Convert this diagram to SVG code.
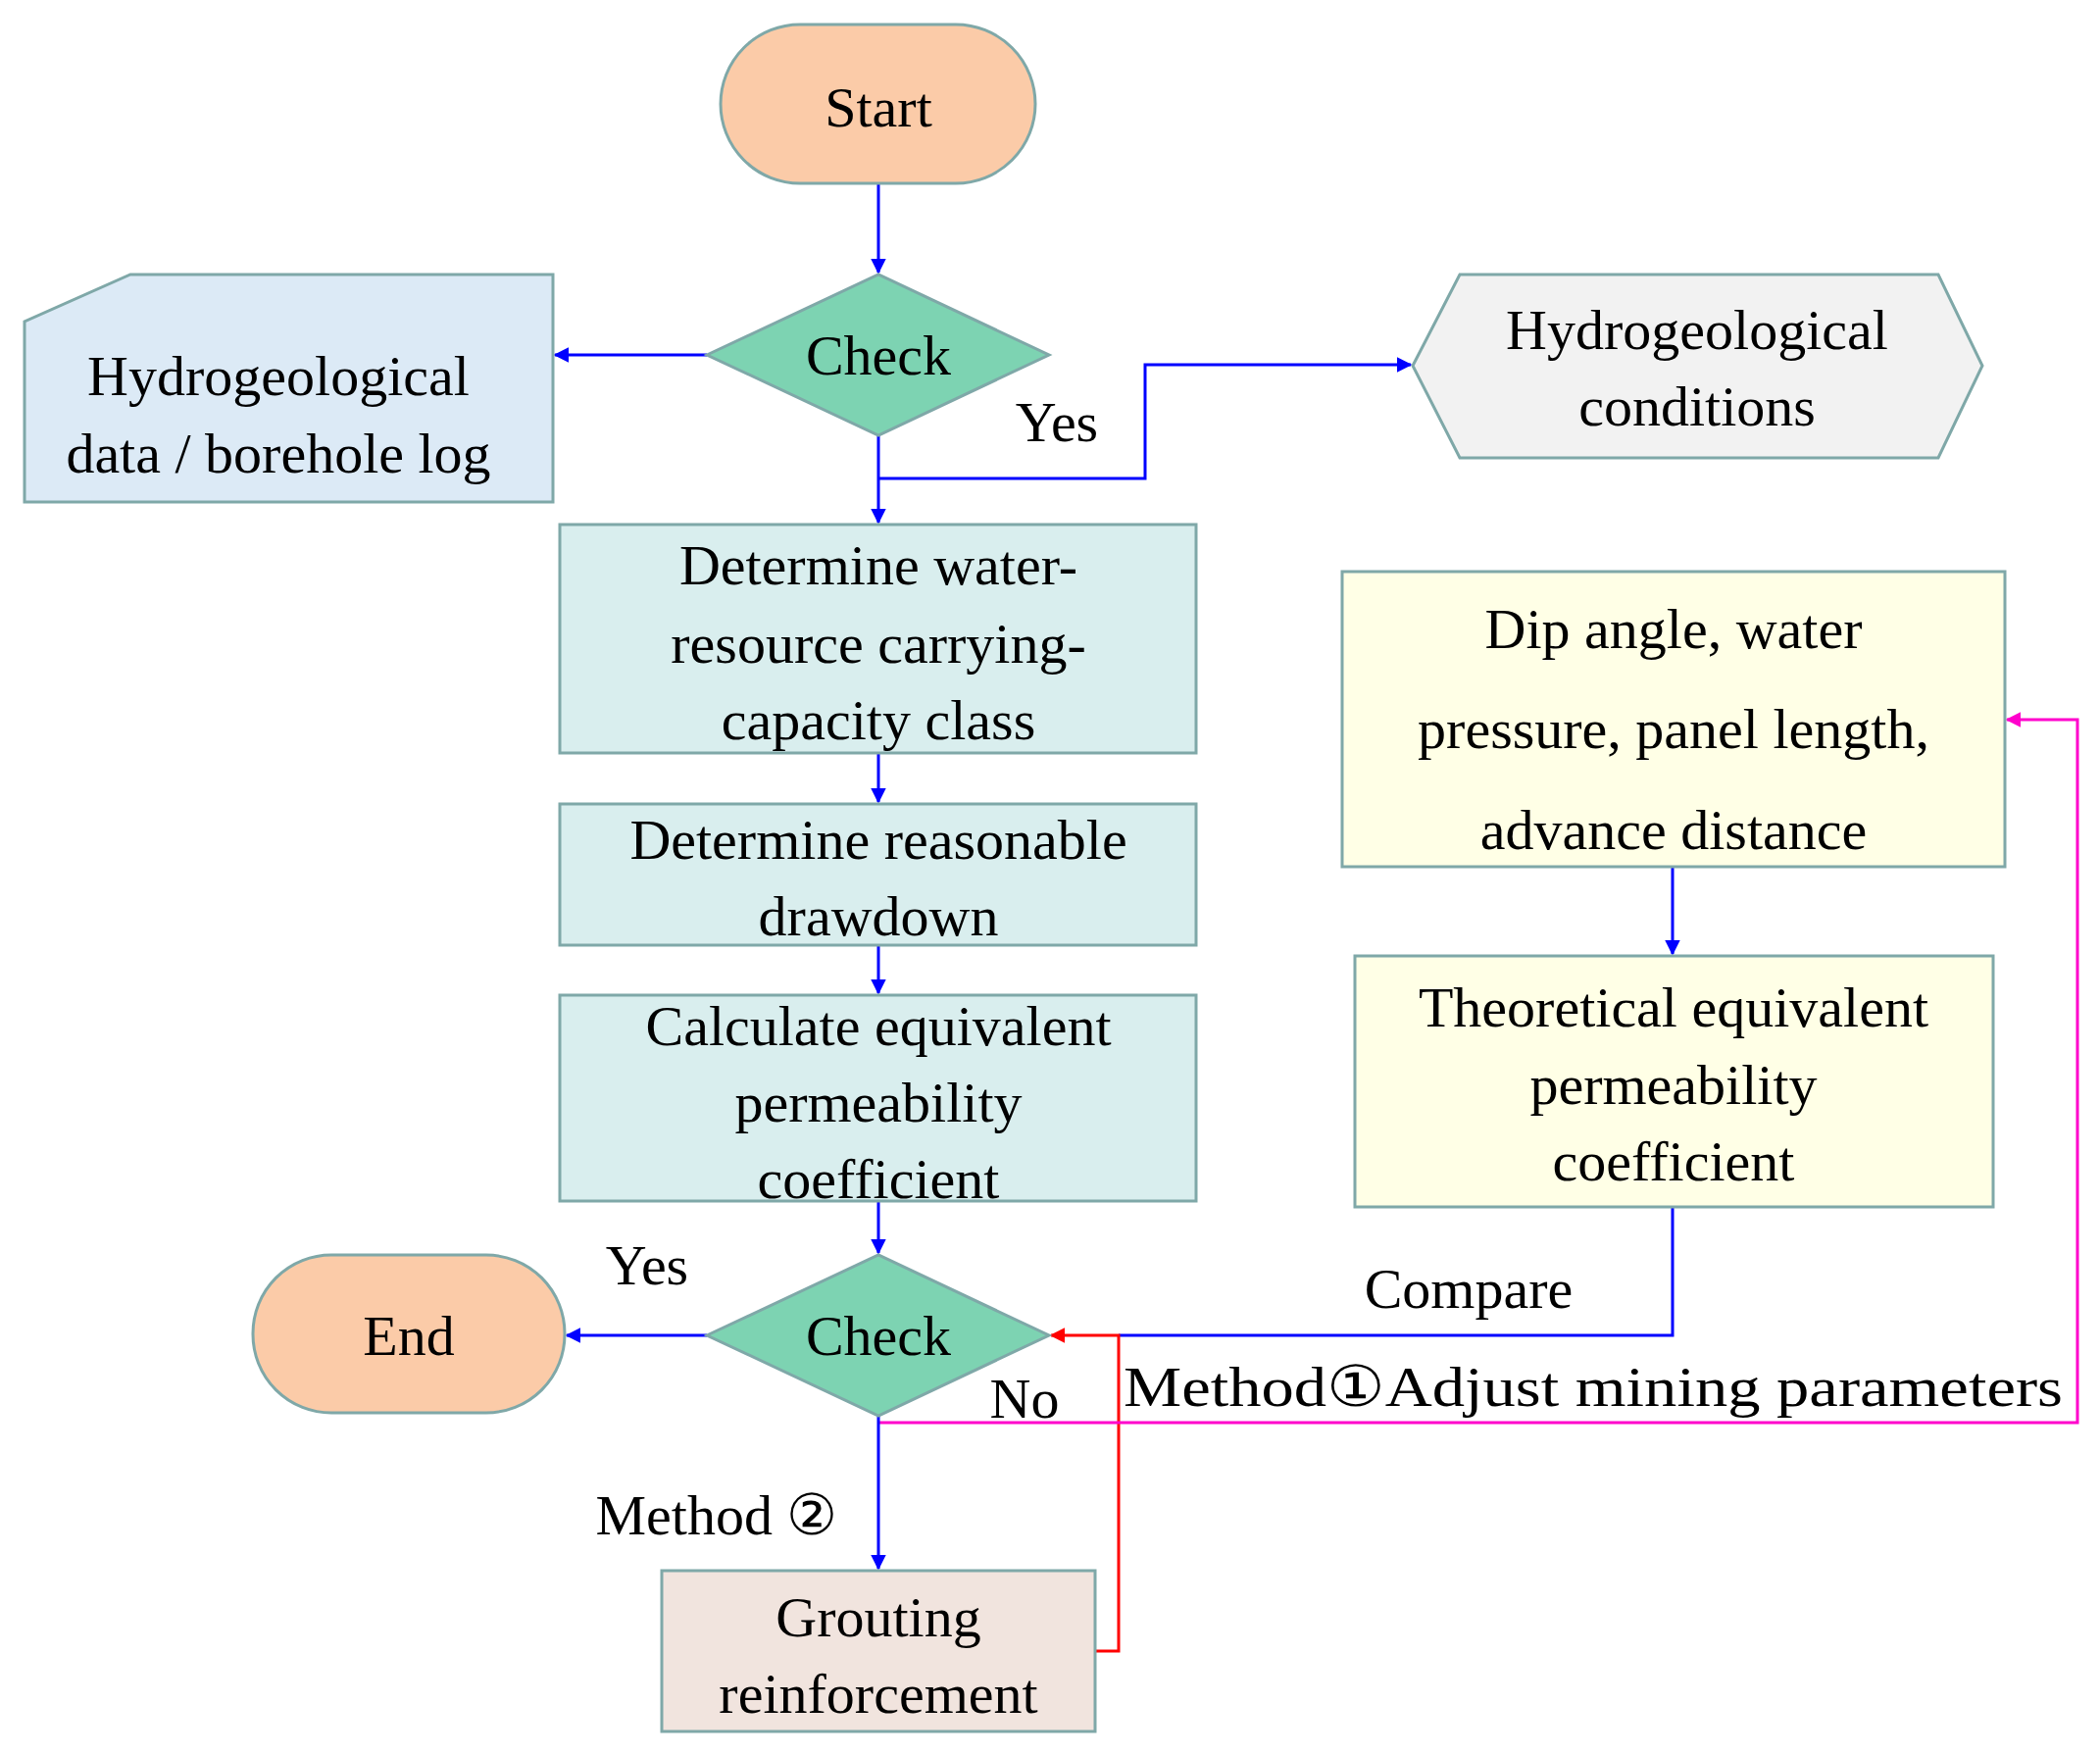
<svg xmlns="http://www.w3.org/2000/svg" width="2142" height="1789" viewBox="0 0 2142 1789">
<style>
text{font-family:"Liberation Serif","Times New Roman",serif;font-size:58px;fill:#000;text-anchor:middle;dominant-baseline:central}
.s{stroke:#7FA8A8;stroke-width:3}
.c{fill:none;stroke-width:3}
</style>
<defs>
<marker id="ab" viewBox="0 0 10 10" refX="9" refY="5" markerWidth="7" markerHeight="7" orient="auto" markerUnits="userSpaceOnUse" style="overflow:visible"><path d="M0,0L10,5L0,10z" fill="#0000FF" transform="scale(2.2) translate(-5,-2.7)"/></marker>
<marker id="ar" viewBox="0 0 10 10" refX="9" refY="5" markerWidth="7" markerHeight="7" orient="auto" markerUnits="userSpaceOnUse" style="overflow:visible"><path d="M0,0L10,5L0,10z" fill="#FF0000" transform="scale(2.2) translate(-5,-2.7)"/></marker>
<marker id="am" viewBox="0 0 10 10" refX="9" refY="5" markerWidth="7" markerHeight="7" orient="auto" markerUnits="userSpaceOnUse" style="overflow:visible"><path d="M0,0L10,5L0,10z" fill="#FF00CC" transform="scale(2.2) translate(-5,-2.7)"/></marker>
</defs>
<rect width="2142" height="1789" fill="#fff"/>
<g id="connectors">
<path class="c" stroke="#0000FF" d="M896,187V278" marker-end="url(#ab)"/>
<path class="c" stroke="#0000FF" d="M721,362H566" marker-end="url(#ab)"/>
<path class="c" stroke="#0000FF" d="M896,444V533" marker-end="url(#ab)"/>
<path class="c" stroke="#0000FF" d="M896,488H1168V372H1439" marker-end="url(#ab)"/>
<path class="c" stroke="#0000FF" d="M896,768V818" marker-end="url(#ab)"/>
<path class="c" stroke="#0000FF" d="M896,964V1013" marker-end="url(#ab)"/>
<path class="c" stroke="#0000FF" d="M896,1225V1278" marker-end="url(#ab)"/>
<path class="c" stroke="#0000FF" d="M721,1362H578" marker-end="url(#ab)"/>
<path class="c" stroke="#0000FF" d="M1706,884V973" marker-end="url(#ab)"/>
<path class="c" stroke="#0000FF" d="M1706,1231V1362H1141"/>
<path class="c" stroke="#FF0000" d="M1117,1684H1141V1362H1072" marker-end="url(#ar)"/>
<path class="c" stroke="#FF00CC" d="M896,1451H2119V734H2047" marker-end="url(#am)"/>
<path class="c" stroke="#0000FF" d="M896,1444V1600" marker-end="url(#ab)"/>
</g>
<g id="start"><rect class="s" x="735" y="25" width="321" height="162" rx="81" fill="#FBCBA8"/><text x="896" y="109">Start</text></g>
<g id="check1"><path class="s" d="M721,362L896,280L1070,362L896,444z" fill="#7DD3B2"/><text x="896" y="362">Check</text></g>
<g id="hydrodata"><path class="s" d="M133,280H564V512H25V328z" fill="#DCEAF6"/><text x="284" y="383">Hydrogeological</text><text x="284" y="462">data / borehole log</text></g>
<g id="hydrocond"><path class="s" d="M1441,373L1489,280H1977L2022,373L1977,467H1489z" fill="#F2F2F2"/><text x="1731" y="336">Hydrogeological</text><text x="1731" y="414">conditions</text></g>
<g id="box1"><rect class="s" x="571" y="535" width="649" height="233" fill="#D9EEEE"/><text x="896" y="576">Determine water-</text><text x="896" y="656">resource carrying-</text><text x="896" y="734">capacity class</text></g>
<g id="box2"><rect class="s" x="571" y="820" width="649" height="144" fill="#D9EEEE"/><text x="896" y="856">Determine reasonable</text><text x="896" y="934">drawdown</text></g>
<g id="box3"><rect class="s" x="571" y="1015" width="649" height="210" fill="#D9EEEE"/><text x="896" y="1046">Calculate equivalent</text><text x="896" y="1124">permeability</text><text x="896" y="1202">coefficient</text></g>
<g id="dip"><rect class="s" x="1369" y="583" width="676" height="301" fill="#FFFFE6"/><text x="1707" y="641">Dip angle, water</text><text x="1707" y="743">pressure, panel length,</text><text x="1707" y="846">advance distance</text></g>
<g id="theo"><rect class="s" x="1382" y="975" width="651" height="256" fill="#FFFFE6"/><text x="1707" y="1027">Theoretical equivalent</text><text x="1707" y="1106">permeability</text><text x="1707" y="1184">coefficient</text></g>
<g id="check2"><path class="s" d="M721,1362L896,1280L1070,1362L896,1444z" fill="#7DD3B2"/><text x="896" y="1362">Check</text></g>
<g id="end"><rect class="s" x="258" y="1280" width="318" height="161" rx="80" fill="#FBCBA8"/><text x="417" y="1362">End</text></g>
<g id="grout"><rect class="s" x="675" y="1602" width="442" height="164" fill="#F1E4DE"/><text x="896" y="1649">Grouting</text><text x="896" y="1727">reinforcement</text></g>
<g id="labels">
<text x="1078" y="430">Yes</text>
<text x="660" y="1290">Yes</text>
<text x="1498" y="1314">Compare</text>
<text x="1045" y="1426">No</text>
<text x="1625" y="1414" textLength="958" lengthAdjust="spacingAndGlyphs">Method①Adjust mining parameters</text>
<text x="731" y="1545">Method ②</text>
</g>
</svg>
